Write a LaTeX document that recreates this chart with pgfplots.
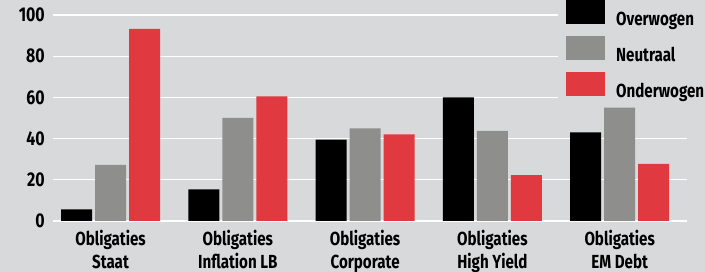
\documentclass[border=0pt]{standalone}
\usepackage{fontspec}
\setmainfont{Fira Sans}[FakeStretch=0.8]
\usepackage{pgfplots}
\pgfplotsset{compat=1.18}
\definecolor{bg}{RGB}{216,217,219}
\definecolor{cgray}{RGB}{142,142,140}
\definecolor{cred}{RGB}{224,58,64}
\newcommand\lf{\fontsize{19}{23}\selectfont\bfseries}
\begin{document}
\begin{tikzpicture}
\fill[bg] (0,0) rectangle (705bp,272bp);
\useasboundingbox (0,0) rectangle (705bp,272bp);
\begin{axis}[
  at={(53bp,51bp)}, anchor=south west,
  scale only axis, width=634bp, height=206bp,
  xmin=-0.452, xmax=4.529, ymin=0, ymax=100,
  ytick={0,20,40,60,80,100},
  xtick={0,1,2,3,4},
  xticklabels={{Obligaties\\Staat},{Obligaties\\Inflation LB},{Obligaties\\Corporate},{Obligaties\\High Yield},{Obligaties\\EM Debt}},
  /pgf/number format/assume math mode=true,
  axis line style={draw=none},
  major tick length=0pt,
  ymajorgrids, grid style={white, line width=1.3bp},
  xticklabel style={align=center, inner sep=0pt, yshift=-9bp, font=\lf},
  yticklabel style={inner sep=0pt, xshift=-8bp, font=\fontsize{20}{24}\selectfont\bfseries},
  ybar=3bp, bar width=31bp,
  legend cell align=left,
  legend style={at={(0.7965,1.0728)}, anchor=north west, fill=bg, draw=none,
    inner xsep=8bp, inner ysep=0bp, row sep=7bp, column sep=9bp,
    font=\lf},
  legend image code/.code={\fill[#1] (0bp,-5bp) rectangle (39bp,19bp);},
]
\addplot[fill=black, draw=none] coordinates {(0,5.7) (1,15.4) (2,39.5) (3,60) (4,43)};
\addplot[fill=cgray, draw=none] coordinates {(0,27.3) (1,50) (2,45) (3,43.8) (4,55)};
\addplot[fill=cred, draw=none] coordinates {(0,93.3) (1,60.5) (2,42) (3,22.3) (4,27.7)};
\legend{Overwogen,Neutraal,Onderwogen}
\end{axis}
\end{tikzpicture}
\end{document}
